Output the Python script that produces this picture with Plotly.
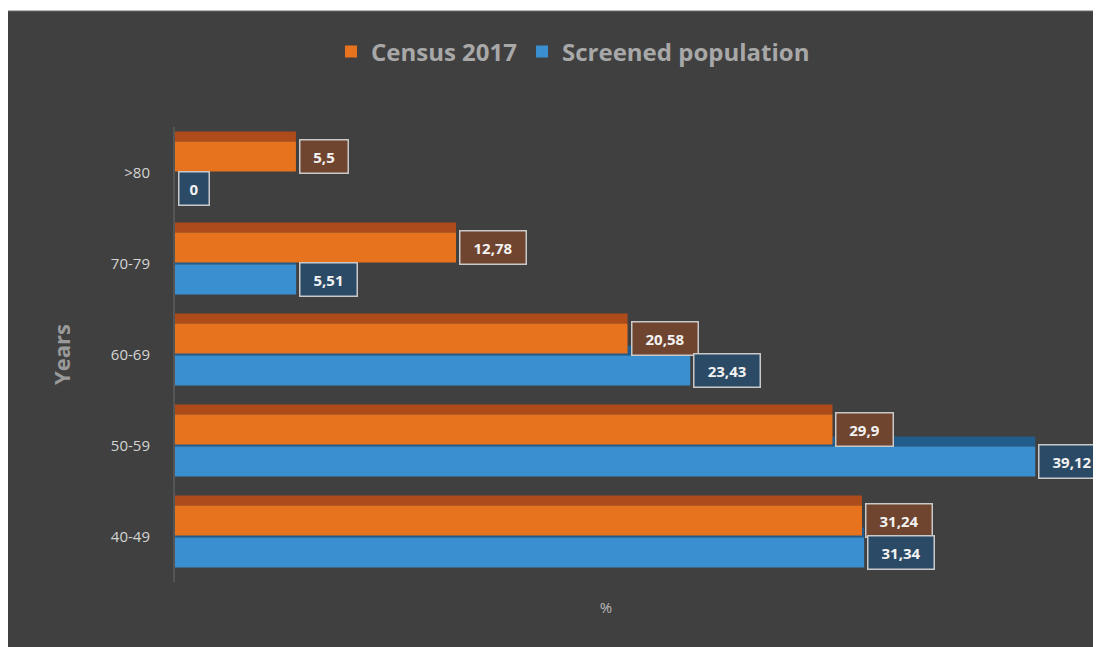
import plotly.graph_objects as go

categories = ["40-49", "50-59", "60-69", "70-79", ">80"]
census_2017 = [31.24, 29.9, 20.58, 12.78, 5.5]
screened = [31.34, 39.12, 23.43, 5.51, 0]
series_names = ["Census 2017", "Screened population"]

ORANGE = "#e8731f"
ORANGE_DARK = "#ad4b1b"
BLUE = "#3a8fd0"
BLUE_DARK = "#215c8c"
BG = "#404040"

# figure is placed at page offset (8, 8) by the page body margin
W, H = 1101, 647
L, R, T, B = 167, 72, 119, 73
pw, ph = W - L - R, H - T - B

FRONT_W = 0.33
DEPTH_W = 0.11

fig = go.Figure()
fig.add_trace(go.Bar(y=categories, x=screened, orientation="h", marker_color=BLUE_DARK,
                     offset=-0.01, width=DEPTH_W, showlegend=False, hoverinfo="skip",
                     marker_line_width=0))
fig.add_trace(go.Bar(y=categories, x=screened, orientation="h", marker_color=BLUE,
                     offset=-0.34, width=FRONT_W, name=series_names[1], marker_line_width=0))
fig.add_trace(go.Bar(y=categories, x=census_2017, orientation="h", marker_color=ORANGE_DARK,
                     offset=0.34, width=DEPTH_W, showlegend=False, hoverinfo="skip",
                     marker_line_width=0))
fig.add_trace(go.Bar(y=categories, x=census_2017, orientation="h", marker_color=ORANGE,
                     offset=0.01, width=FRONT_W, name=series_names[0], marker_line_width=0))

annotations = []
for i, (c, s) in enumerate(zip(census_2017, screened)):
    for v, yc, bg in ((c, i + 0.175, "#704530"), (s, i - 0.175, "#2b4a66")):
        label = ("%g" % v).replace(".", ",")
        annotations.append(dict(
            x=v, y=yc, xref="x", yref="y", text="<b>%s</b>" % label,
            showarrow=False, xanchor="left", yanchor="middle", xshift=3,
            width=len(label) * 9 + 8, align="center",
            font=dict(family="Open Sans", size=15, color="#f2f2f2"),
            bgcolor=bg, bordercolor="#c9c9c9", borderwidth=1.5, borderpad=6,
        ))

fig.update_layout(
    width=W, height=H,
    margin=dict(l=L, r=R, t=T, b=B),
    paper_bgcolor="white",
    plot_bgcolor=BG,
    barmode="overlay",
    annotations=annotations,
    shapes=[dict(type="rect", xref="paper", yref="paper", layer="below",
                 x0=-L / pw - 0.02, x1=(W - L) / pw + 0.02,
                 y0=-B / ph - 0.02, y1=(ph + T - 3) / ph,
                 fillcolor=BG, line=dict(color="#6a6a6a", width=1))],
    legend=dict(orientation="h", x=(565 - L) / pw, xanchor="center",
                y=(ph + T - 44) / ph, yanchor="middle",
                traceorder="reversed",
                font=dict(family="Open Sans", size=24, color="#a8a8a8", weight="bold"),
                bgcolor="rgba(0,0,0,0)"),
    xaxis=dict(range=[0, 39.2], showgrid=False, zeroline=False, showticklabels=False,
               ticks="", title=dict(text="%", font=dict(family="Open Sans", size=15, color="#b8b8b8"),
                                    standoff=20)),
    yaxis=dict(type="category", range=[-0.5, 4.5], showgrid=False, zeroline=False,
               showline=True, linecolor="#555555", linewidth=2,
               ticks="outside", ticklen=20, tickcolor="rgba(0,0,0,0)",
               tickfont=dict(family="Open Sans", size=15, color="#d4d4d4"),
               title=dict(text="Years", font=dict(family="Open Sans", size=22, color="#9a9a9a",
                                                  weight="bold"), standoff=34)),
)

fig.write_html("out.html")
